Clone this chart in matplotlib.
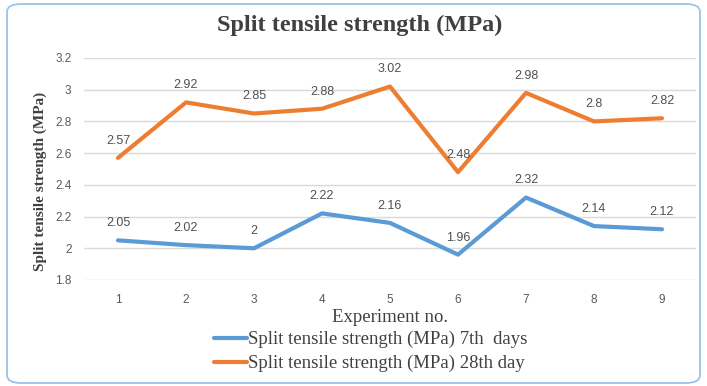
import matplotlib
matplotlib.use('Agg')
import matplotlib.pyplot as plt
from matplotlib.patches import FancyBboxPatch

experiments = [1, 2, 3, 4, 5, 6, 7, 8, 9]
day7 = [2.05, 2.02, 2, 2.22, 2.16, 1.96, 2.32, 2.14, 2.12]
day28 = [2.57, 2.92, 2.85, 2.88, 3.02, 2.48, 2.98, 2.8, 2.82]
y_ticks = [1.8, 2, 2.2, 2.4, 2.6, 2.8, 3, 3.2]

label7 = 'Split tensile strength (MPa) 7th  days'
label28 = 'Split tensile strength (MPa) 28th day'

W, H = 707, 386
fig = plt.figure(figsize=(W / 100, H / 100), dpi=100)

# rounded border of the chart area
border = FancyBboxPatch((7 / W, 3 / H), 693 / W, 379 / H,
                        boxstyle='round,pad=0,rounding_size=0.02',
                        transform=fig.transFigure, fill=False,
                        edgecolor='#9DC3E6', linewidth=1.3)
fig.patches.append(border)

ax = fig.add_axes([84 / W, 1 - 280 / H, 612 / W, 222 / H])

ax.plot(experiments, day7, color='#5B9BD5', linewidth=3, label=label7,
        solid_capstyle='round')
ax.plot(experiments, day28, color='#ED7D31', linewidth=3, label=label28,
        solid_capstyle='round')

for series in (day7, day28):
    for x, y in zip(experiments, series):
        ax.annotate(f'{y:g}', (x, y), xytext=(0, 8), textcoords='offset points',
                    ha='center', va='bottom', fontsize=9, color='#505050',
                    family='Liberation Sans')

ax.set_xlim(0.5, 9.5)
ax.set_ylim(1.8, 3.2)
ax.set_xticks(experiments)
ax.set_yticks(y_ticks)
ax.set_yticklabels([f'{t:g}' for t in y_ticks])
ax.yaxis.grid(True, color='#D9D9D9', linewidth=1)
ax.set_axisbelow(True)
for s in ax.spines.values():
    s.set_visible(False)
ax.tick_params(axis='both', length=0, labelsize=8.5, labelcolor='#595959')
ax.tick_params(axis='y', pad=9)
ax.tick_params(axis='x', pad=10)
for t in ax.get_xticklabels() + ax.get_yticklabels():
    t.set_family('Liberation Sans')

fig.text(360 / W, 1 - 25 / H, 'Split tensile strength (MPa)', ha='center',
         va='center', fontsize=17.5, fontweight='bold', color='#404040',
         family='Liberation Serif')
fig.text(40 / W, 1 - 181 / H, 'Split tensile strength (MPa)', ha='center',
         va='center', rotation=90, fontsize=11, fontweight='bold',
         color='#404040', family='Liberation Serif')
fig.text(390 / W, 1 - 317 / H, 'Experiment no.', ha='center', va='center',
         fontsize=13.5, color='#404040', family='Liberation Serif')

fig.legend(loc='upper left', bbox_to_anchor=(214 / W, 1 - 331 / H),
           frameon=False, handlelength=1.75, handletextpad=0.05,
           labelspacing=0.35, borderpad=0, borderaxespad=0,
           prop={'family': 'Liberation Serif', 'size': 13.5},
           labelcolor='#404040')

fig.savefig('out.png', dpi=100)
